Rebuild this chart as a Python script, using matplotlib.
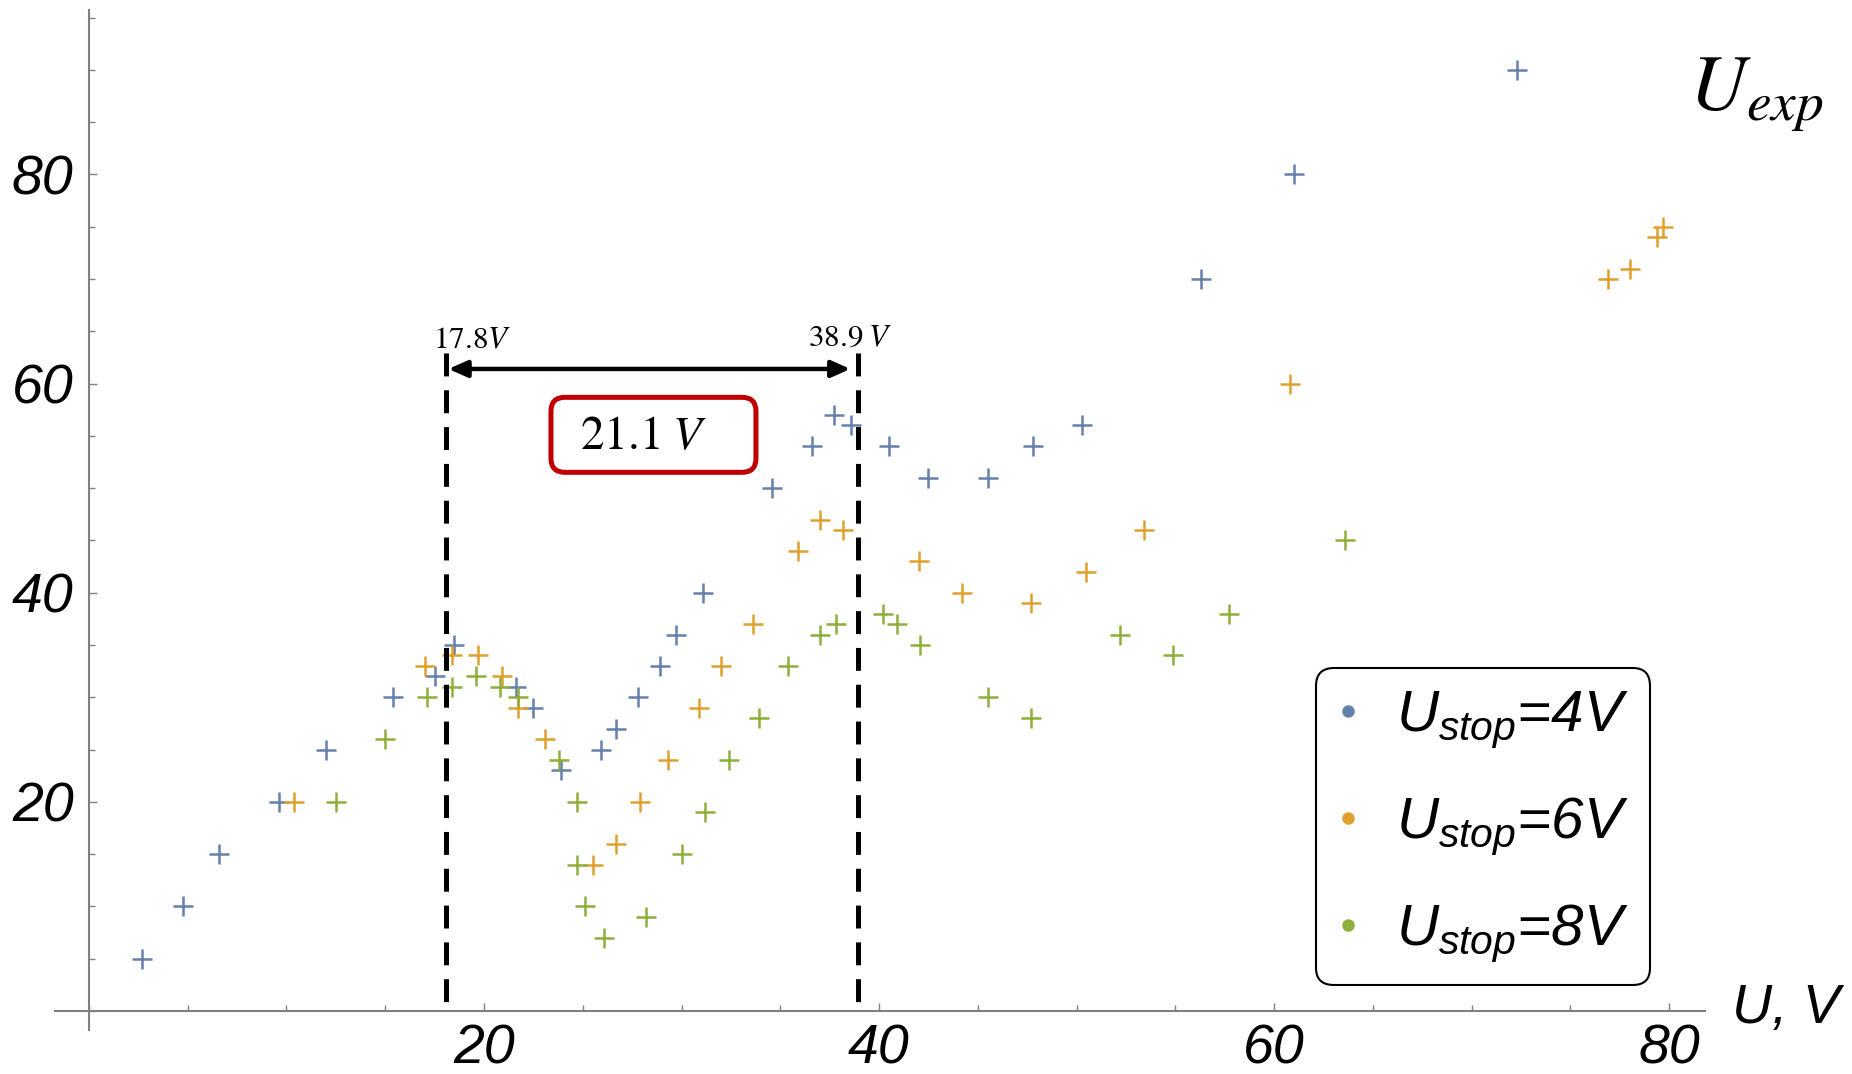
import matplotlib
matplotlib.use("Agg")
import matplotlib.pyplot as plt
from matplotlib.lines import Line2D
from matplotlib.patches import FancyBboxPatch
from matplotlib.transforms import ScaledTranslation
from matplotlib.ticker import MultipleLocator

# ---------------- data ----------------
x_4V = [2.7, 4.75, 6.6, 9.6, 12.0, 15.4, 17.5, 18.5, 21.6, 22.5, 23.9, 25.9, 26.7, 27.8,
        28.9, 29.7, 31.1, 34.6, 36.6, 37.7, 38.6, 40.5, 42.5, 45.5, 47.8, 50.3, 56.3, 61.0, 72.3]
y_4V = [5, 10, 15, 20, 25, 30, 32, 35, 31, 29, 23, 25, 27, 30,
        33, 36, 40, 50, 54, 57, 56, 54, 51, 51, 54, 56, 70, 80, 90]

x_6V = [10.4, 17.0, 18.4, 19.7, 20.9, 21.7, 23.1, 25.5, 26.7, 27.9, 29.3, 30.9, 32.0, 33.6,
        35.9, 37.0, 38.2, 42.0, 44.2, 47.7, 50.5, 53.4, 60.8, 76.9, 78.0, 79.4, 79.7]
y_6V = [20, 33, 34, 34, 32, 29, 26, 14, 16, 20, 24, 29, 33, 37,
        44, 47, 46, 43, 40, 39, 42, 46, 60, 70, 71, 74, 75]

x_8V = [12.5, 15.0, 17.1, 18.4, 19.6, 20.8, 21.7, 23.8, 24.7, 24.7, 25.1, 26.1, 28.2, 30.0,
        31.2, 32.4, 33.9, 35.4, 37.0, 37.8, 40.2, 40.9, 42.1, 45.5, 47.7, 52.2, 54.9, 57.7, 63.6]
y_8V = [20, 26, 30, 31, 32, 31, 30, 24, 20, 14, 10, 7, 9, 15,
        19, 24, 28, 33, 36, 37, 38, 37, 35, 30, 28, 36, 34, 38, 45]

series_labels = [r"$U_{stop}$=4V", r"$U_{stop}$=6V", r"$U_{stop}$=8V"]
series_colors = ["#6680ad", "#e0a02e", "#8fae3a"]

x_ticks = [20, 40, 60, 80]
y_ticks = [20, 40, 60, 80]

marker_lines = [18.1, 38.95]          # dashed vertical lines (as drawn)
marker_texts = [r"$17.8V$", r"$38.9\;V$"]
span_text = r"$21.1\;V$"

# ---------------- style ----------------
plt.rcParams["font.family"] = ["Liberation Sans", "DejaVu Sans"]
plt.rcParams["mathtext.fontset"] = "custom"
plt.rcParams["mathtext.it"] = "Liberation Sans:italic"
plt.rcParams["mathtext.rm"] = "Liberation Sans:italic"
plt.rcParams["lines.scale_dashes"] = False

fig = plt.figure(figsize=(18.52, 10.74), dpi=100)
W, H = 1852.0, 1074.0
ax = fig.add_axes([55.4 / W, 1 - 1029.8 / H, (1704.6 - 55.4) / W, (1029.8 - 10.3) / H])
ax.set_xlim(-1.7, 81.8)
ax.set_ylim(-1.8, 95.7)

axis_col = "#808080"
for s in ["top", "right"]:
    ax.spines[s].set_visible(False)
for s in ["left", "bottom"]:
    ax.spines[s].set_position(("data", 0))
    ax.spines[s].set_color(axis_col)
    ax.spines[s].set_linewidth(1.5)

ax.set_xticks(x_ticks)
ax.set_xticklabels([str(v) for v in x_ticks], fontstyle="italic")
ax.set_yticks(y_ticks)
ax.set_yticklabels([str(v) for v in y_ticks], fontstyle="italic")
ax.xaxis.set_minor_locator(MultipleLocator(5))
ax.yaxis.set_minor_locator(MultipleLocator(5))
ax.tick_params(which="both", direction="in", color=axis_col, width=1.0, labelsize=40)
ax.tick_params(which="major", length=6)
ax.tick_params(which="minor", length=4.3)
ax.tick_params(axis="x", pad=9)
ax.tick_params(axis="y", pad=11)

# ---------------- scatter ----------------
for xs, ys, c in zip([x_4V, x_6V, x_8V], [y_4V, y_6V, y_8V], series_colors):
    ax.plot(xs, ys, linestyle="none", marker="+", ms=14.5, mew=1.8, color=c, zorder=3)

# ---------------- annotations ----------------
for xv in marker_lines:
    ax.plot([xv, xv], [62.9, 0], color="black", lw=3.6, dashes=(16.5, 10.0),
            dash_capstyle="butt", zorder=5)

ax.annotate("", xy=(18.2, 61.4), xytext=(38.55, 61.4),
            arrowprops=dict(arrowstyle="<|-|>,head_length=0.45,head_width=0.2",
                            lw=3.2, color="black", shrinkA=0, shrinkB=0,
                            mutation_scale=25), zorder=5)

ax.text(17.42, 63.4, marker_texts[0], fontsize=22.5, math_fontfamily="stix",
        ha="left", va="baseline", zorder=6)
ax.text(36.39, 63.6, marker_texts[1], fontsize=22.5, math_fontfamily="stix",
        ha="left", va="baseline", zorder=6)

bx, by = 28.58, 55.1
trans = fig.dpi_scale_trans + ScaledTranslation(bx, by, ax.transData)
box = FancyBboxPatch((-1.025, -0.375), 2.05, 0.75,
                     boxstyle="round,pad=0,rounding_size=0.14",
                     transform=trans, fc="white", ec="#c00000", lw=3.6, zorder=6)
ax.add_patch(box)
ax.annotate(span_text, xy=(bx, by), xytext=(-52.9, -10.4), textcoords="offset points",
            fontsize=34, math_fontfamily="stix", ha="left", va="baseline", zorder=7)

# axis labels
fig.text(1689 / W, 1 - 110 / H, r"$U_{exp}$", fontsize=57, math_fontfamily="stix",
         ha="left", va="baseline")
fig.text(1732 / W, 1 - 1023 / H, "U, V", fontsize=40, fontstyle="italic",
         ha="left", va="baseline")

# ---------------- legend ----------------
handles = [Line2D([], [], linestyle="none", marker="o", ms=8, color=c, mec=c)
           for c in series_colors]
leg = ax.legend(handles, series_labels, loc="upper left",
                bbox_to_anchor=(1316 / W, 1 - 668 / H), bbox_transform=fig.transFigure,
                borderaxespad=0, prop=dict(family="Liberation Sans", style="italic", size=42),
                borderpad=0.36, handlelength=0.36, handletextpad=0.66, labelspacing=0.78,
                fancybox=True, framealpha=1, edgecolor="black")
leg.get_frame().set_linewidth(1.5)
leg.get_frame().set_boxstyle("round,pad=0,rounding_size=0.3")
leg.set_zorder(10)

fig.savefig("out.png", dpi=100)
